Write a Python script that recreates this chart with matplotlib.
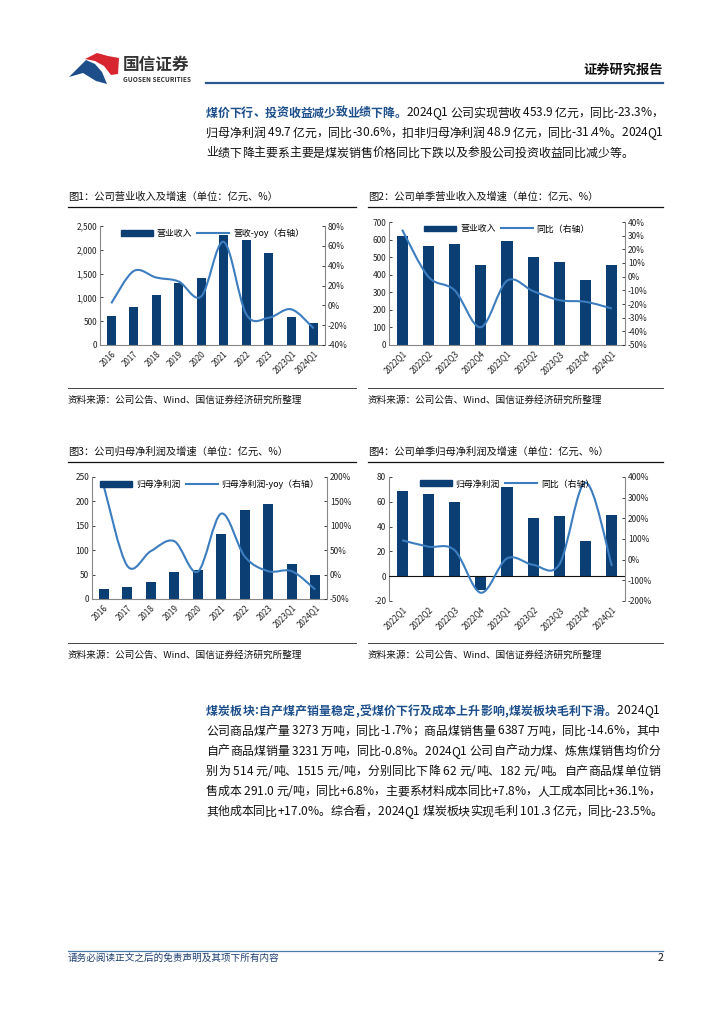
"""
国信证券 研报页面：营业收入 / 归母净利润及增速 四图
"""
import numpy as np
import matplotlib
matplotlib.use('Agg')
import matplotlib.pyplot as plt
from matplotlib.path import Path
from matplotlib.patches import PathPatch, Polygon, Patch
from matplotlib.lines import Line2D
from matplotlib.ticker import FuncFormatter

plt.rcParams['font.family'] = ['Noto Sans CJK SC', 'DejaVu Sans']
plt.rcParams['axes.unicode_minus'] = False

# 年度数据（亿元、%）
years = ['2016', '2017', '2018', '2019', '2020', '2021', '2022', '2023', '2023Q1', '2024Q1']
revenue = [609, 805, 1043, 1295, 1407, 2311, 2206, 1926, 595, 453.9]
revenue_yoy = [2, 34.6, 28, 24, 9, 64, -9, -12.5, -4, -23.3]
net_profit = [20.4, 23.8, 34, 56, 58.6, 133, 182, 195.5, 72, 49.7]
net_profit_yoy = [181.6, 18, 48, 68.5, 5.9, 125, 37, 7, 7, -30.6]

# 单季数据
quarters = ['2022Q1', '2022Q2', '2022Q3', '2022Q4', '2023Q1', '2023Q2', '2023Q3', '2023Q4', '2024Q1']
q_revenue = [620, 564, 573, 454, 590, 501, 471, 369, 453.9]
q_revenue_yoy = [34.4, 0, -9.9, -37, -3, -10.6, -17.2, -18.4, -23.3]
q_net_profit = [68.6, 66, 59.5, -11, 71.6, 47.2, 48.8, 28.4, 49.7]
q_net_profit_yoy = [94, 63, 46, -160, 6, -25, -22, 373, -30.6]

W, H = 724, 1024
BAR_COLOR = '#0B3F73'
LINE_COLOR = '#3C7DC0'
HEAD_BLUE = '#1C4F8C'
TXT = '#111111'
BODY_SIZE = 8.6

fig = plt.figure(figsize=(W / 100, H / 100), dpi=100)
renderer = fig.canvas.get_renderer()


def fx(x):
    return x / W


def fy(y):
    return 1 - y / H


def hline(x0, x1, y, color='#222222', lw=0.8):
    fig.add_artist(Line2D([fx(x0), fx(x1)], [fy(y), fy(y)], transform=fig.transFigure,
                          color=color, lw=lw))


_width_cache = {}


def char_width(c, bold, size):
    # 用 |c| 与 || 的宽度差量出单字宽（空格也能量）
    key = (c, bold, size)
    if key not in _width_cache:
        wt = 'bold' if bold else 'normal'
        t1 = fig.text(0, 0, '|' + c + '|', fontsize=size, fontweight=wt)
        t2 = fig.text(0, 0, '||', fontsize=size, fontweight=wt)
        _width_cache[key] = (t1.get_window_extent(renderer).width
                             - t2.get_window_extent(renderer).width)
        t1.remove()
        t2.remove()
    return _width_cache[key]


def draw_line(x, y, runs, right=None, size=BODY_SIZE):
    # 一行内多段文字（粗体标题 + 正文），给了 right 就两端对齐
    chars = [(c, bold, color) for text, bold, color in runs for c in text]
    widths = [char_width(c, b, size) for c, b, _ in chars]
    gap = 0
    if right is not None and len(chars) > 1:
        gap = (right - x - sum(widths)) / (len(chars) - 1)
    for (c, bold, color), w in zip(chars, widths):
        if c != ' ':
            fig.text(fx(x), fy(y), c, fontsize=size, color=color, va='center', ha='left',
                     fontweight='bold' if bold else 'normal')
        x += w + gap


def smooth_path(x, y):
    # Catmull-Rom 转 Bezier，模拟 Excel 平滑线
    pts = np.column_stack([x, y]).astype(float)
    verts = [pts[0]]
    codes = [Path.MOVETO]
    n = len(pts)
    for i in range(n - 1):
        p0 = pts[i - 1] if i > 0 else pts[i]
        p1 = pts[i]
        p2 = pts[i + 1]
        p3 = pts[i + 2] if i + 2 < n else pts[i + 1]
        verts += [p1 + (p2 - p0) / 6, p2 - (p3 - p1) / 6, p2]
        codes += [Path.CURVE4] * 3
    return Path(verts, codes)


def draw_chart(box, cats, bars, line, bar_label, line_label, ylim, ystep, y2lim, y2step,
               comma=False, zero_line=False):
    left, top, right, bottom = box
    ax = fig.add_axes([fx(left), fy(bottom), (right - left) / W, (bottom - top) / H])
    x = np.arange(len(cats))
    ax.bar(x, bars, width=0.42, color=BAR_COLOR, zorder=2)
    ax.set_xlim(-0.5, len(cats) - 0.5)
    ax.set_ylim(*ylim)
    ax.set_yticks(np.arange(ylim[0], ylim[1] + ystep / 2, ystep))
    if comma:
        ax.yaxis.set_major_formatter(FuncFormatter(lambda v, p: f'{v:,.0f}'))
    ax.set_xticks(x)
    ax.set_xticklabels(cats, rotation=45, ha='right', rotation_mode='anchor')
    ax.tick_params(axis='x', length=0, labelsize=5.8, pad=3, colors='#222222')
    ax.tick_params(axis='y', direction='in', length=2.5, labelsize=6, pad=2,
                   colors='#222222', width=0.6)
    for s in ['top', 'right']:
        ax.spines[s].set_visible(False)
    for s in ['left', 'bottom']:
        ax.spines[s].set_color('#888888')
        ax.spines[s].set_linewidth(0.8)
    if zero_line:
        ax.spines['bottom'].set_visible(False)
        ax.axhline(0, color='#111111', lw=0.8, zorder=3)

    ax2 = ax.twinx()
    ax2.add_patch(PathPatch(smooth_path(x, line), fill=False, edgecolor=LINE_COLOR,
                            lw=1.5, zorder=4))
    ax2.set_ylim(*y2lim)
    ax2.set_yticks(np.arange(y2lim[0], y2lim[1] + y2step / 2, y2step))
    ax2.yaxis.set_major_formatter(FuncFormatter(lambda v, p: f'{v:.0f}%'))
    ax2.tick_params(axis='y', direction='in', length=2.5, labelsize=6, pad=2,
                    colors='#222222', width=0.6)
    for s in ['top', 'left', 'bottom']:
        ax2.spines[s].set_visible(False)
    ax2.spines['right'].set_color('#888888')
    ax2.spines['right'].set_linewidth(0.8)

    handles = [Patch(color=BAR_COLOR), Line2D([], [], color=LINE_COLOR, lw=1.5)]
    ax2.legend(handles, [bar_label, line_label], loc='upper center', bbox_to_anchor=(0.5, 1.045),
               ncol=2, frameon=False, fontsize=6.4, handlelength=3.6, handleheight=0.6,
               columnspacing=0.6, handletextpad=0.4)
    return ax, ax2


# ---------- 页眉 ----------
blue_logo = [(69, 77), (86, 60), (95, 64), (102, 72), (107, 84), (96, 81), (83, 73)]
red_logo = [(85, 59), (97, 53), (108, 56), (119, 58), (118, 74), (111, 75), (104, 66), (95, 61)]
fig.add_artist(Polygon([(fx(a), fy(b)) for a, b in blue_logo], closed=True,
                       transform=fig.transFigure, color='#1D4E8A', lw=0))
fig.add_artist(Polygon([(fx(a), fy(b)) for a, b in red_logo], closed=True,
                       transform=fig.transFigure, color='#D7262F', lw=0))
fig.text(fx(123), fy(65), '国信证券', fontsize=12, fontweight='bold', color='#333333',
         va='center', ha='left')
fig.text(fx(123), fy(79), 'GUOSEN SECURITIES', fontsize=4.7, fontweight='bold',
         color='#333333', va='center', ha='left')
fig.text(fx(663), fy(70), '证券研究报告', fontsize=9.5, fontweight='bold', color='#111111',
         va='center', ha='right')
hline(206, 663, 83, color='#2A5A8E', lw=1.6)

# ---------- 第一段 ----------
draw_line(206, 113, [('煤价下行、投资收益减少致业绩下降。', True, HEAD_BLUE),
                     ('2024Q1 公司实现营收 453.9 亿元，同比-23.3%，', False, TXT)], right=663)
draw_line(206, 133, [('归母净利润 49.7 亿元，同比-30.6%，扣非归母净利润 48.9 亿元，同比-31.4%。2024Q1', False, TXT)],
          right=663)
draw_line(206, 153, [('业绩下降主要系主要是煤炭销售价格同比下跌以及参股公司投资收益同比减少等。', False, TXT)])

# ---------- 图表标题与来源 ----------
SRC = '资料来源：公司公告、Wind、国信证券经济研究所整理'
chart_titles = ['图1：公司营业收入及增速（单位：亿元、%）', '图2：公司单季营业收入及增速（单位：亿元、%）',
                '图3：公司归母净利润及增速（单位：亿元、%）', '图4：公司单季归母净利润及增速（单位：亿元、%）']
for row, (ty, ry, sy, st) in enumerate([(197, 207, 388, 400), (452, 462, 643, 655)]):
    for col, (x0, x1) in enumerate([(68, 356), (368, 663)]):
        fig.text(fx(x0), fy(ty), chart_titles[row * 2 + col], fontsize=7.4, color='#111111',
                 va='center', ha='left')
        hline(x0, x1, ry, color='#111111', lw=0.9)
        hline(x0, x1, sy, color='#444444', lw=0.7)
        fig.text(fx(x0), fy(st), SRC, fontsize=6.9, color='#111111', va='center', ha='left')

draw_chart((100, 226, 325, 345), years, revenue, revenue_yoy, '营业收入', '营收-yoy（右轴）',
           (0, 2500), 500, (-40, 80), 20, comma=True)
draw_chart((389, 222, 625, 345), quarters, q_revenue, q_revenue_yoy, '营业收入', '同比（右轴）',
           (0, 700), 100, (-50, 40), 10)
draw_chart((92, 477, 327, 599), years, net_profit, net_profit_yoy, '归母净利润', '归母净利润-yoy（右轴）',
           (0, 250), 50, (-50, 200), 50)
draw_chart((389, 477, 625, 601), quarters, q_net_profit, q_net_profit_yoy, '归母净利润', '同比（右轴）',
           (-20, 80), 20, (-200, 400), 100, zero_line=True)

# ---------- 第二段 ----------
p2 = ['公司商品煤产量 3273 万吨，同比-1.7%；商品煤销售量 6387 万吨，同比-14.6%，其中',
      '自产商品煤销量 3231 万吨，同比-0.8%。2024Q1 公司自产动力煤、炼焦煤销售均价分',
      '别为 514 元/吨、1515 元/吨，分别同比下降 62 元/吨、182 元/吨。自产商品煤单位销',
      '售成本 291.0 元/吨，同比+6.8%，主要系材料成本同比+7.8%，人工成本同比+36.1%，',
      '其他成本同比+17.0%。综合看，2024Q1 煤炭板块实现毛利 101.3 亿元，同比-23.5%。']
draw_line(206, 711, [('煤炭板块:自产煤产销量稳定,受煤价下行及成本上升影响,煤炭板块毛利下滑。', True, HEAD_BLUE),
                     ('2024Q1', False, TXT)], right=660)
for i, line in enumerate(p2):
    draw_line(206, 731 + 20.2 * i, [(line, False, TXT)], right=660 if i < len(p2) - 1 else None)

# ---------- 页脚 ----------
hline(68, 663, 951, color='#4F7BAA', lw=0.9)
fig.text(fx(68), fy(958), '请务必阅读正文之后的免责声明及其项下所有内容', fontsize=6.9,
         fontstyle='italic', color='#1F3F70', va='center', ha='left')
fig.text(fx(663), fy(958), '2', fontsize=7.5, color='#111111', va='center', ha='right')

fig.savefig('out.png', dpi=100)
